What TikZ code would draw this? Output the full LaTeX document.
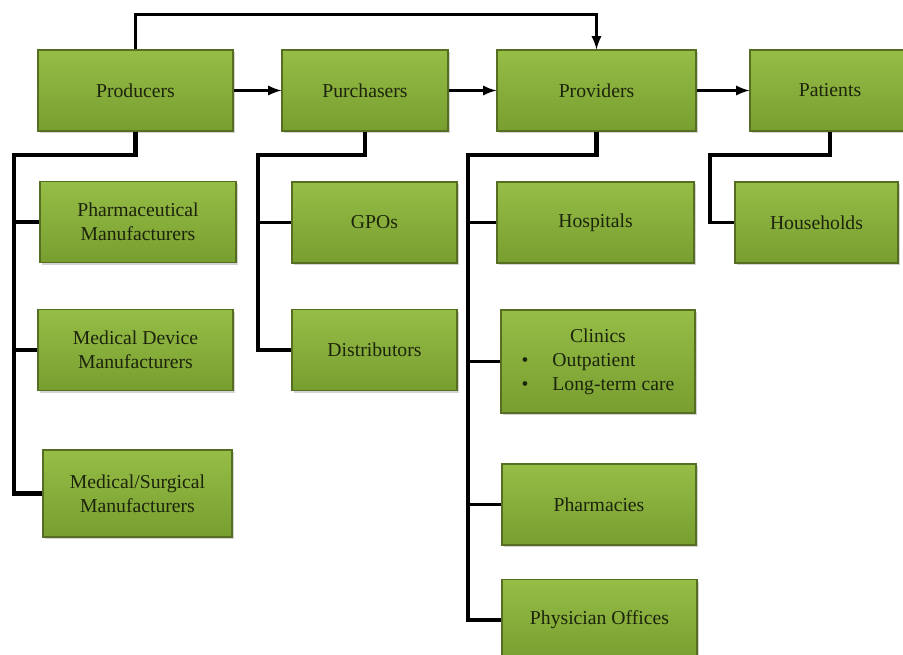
\documentclass[tikz,border=0pt]{standalone}
\usepackage{fontspec}
\setmainfont{Liberation Serif}
\usetikzlibrary{shadows}
\definecolor{boxlight}{RGB}{150,189,70}
\definecolor{boxdark}{RGB}{120,158,48}
\definecolor{boxedge}{RGB}{86,110,34}
\definecolor{boxtext}{RGB}{28,36,12}
\tikzset{
  box/.style={draw=boxedge, line width=0.8pt, top color=boxlight, bottom color=boxdark,
    minimum width=#1, minimum height=2.025cm, inner sep=2pt, align=center,
    drop shadow={shadow xshift=1.5pt, shadow yshift=-1.5pt, opacity=0.35},
    text=boxtext, font=\fontsize{14}{17}\selectfont},
  box/.default=4.9cm,
  link/.style={line width=2.2pt},
  trunk/.style={line width=3.2pt},
}
\begin{document}
\begin{tikzpicture}[x=0.025cm,y=-0.025cm,line join=miter,>=latex]
  \useasboundingbox (0,0) rectangle (903,654);
  % top row
  \node[box=4.875cm] (prod)  at (135.5,90.5) {Producers};
  \node[box=4.15cm]  (purch) at (365,90.5)   {Purchasers};
  \node[box=4.975cm] (prov)  at (596.5,90.5) {Providers};
  \node[box=4.0cm]   (pat)   at (830,90.5)   {Patients};
  % producers
  \node[box=4.9cm]   (pharm)   at (138,222) {Pharmaceutical\\Manufacturers};
  \node[box=4.875cm] (meddev)  at (135.5,350) {Medical Device\\Manufacturers};
  \node[box=4.725cm, minimum height=2.175cm] (medsurg) at (137.5,493.5) {Medical/Surgical\\Manufacturers};
  % purchasers
  \node[box=4.125cm] (gpo)  at (374.5,222.5) {GPOs};
  \node[box=4.125cm] (dist) at (374.5,350)   {Distributors};
  % providers
  \node[box=4.925cm] (hosp) at (595.5,222.5) {Hospitals};
  \node[box=4.85cm, minimum height=2.575cm] (clin) at (598,361.5) {%
    \begin{tabular}{@{}l@{\hspace{17pt}}l@{}}
      \multicolumn{2}{c}{Clinics}\\
      \textbullet & Outpatient\\
      \textbullet & Long-term care
    \end{tabular}};
  \node[box=4.85cm]  (pharmc) at (599,504.5) {Pharmacies};
  \node[box=4.875cm] (phys)   at (599.5,620) {Physician Offices};
  % patients
  \node[box=4.075cm] (house) at (816.5,222.5) {Households};

  % main flow
  \draw[link,->] (prod) -- (purch);
  \draw[link,->] (purch) -- (prov);
  \draw[link,->] (prov) -- (pat);
  \draw[link,->] (prod.north) -- ++(0,-35) -| (prov.north);

  % trees
  \coordinate (ptrunk) at (14,155);
  \coordinate (btrunk) at (258,155);
  \coordinate (vtrunk) at (468,155);
  \coordinate (htrunk) at (710,155);
  \draw[trunk] (prod.south) |- (ptrunk) |- (medsurg.west);
  \foreach \n in {pharm,meddev}
    \draw[link] (ptrunk |- \n.west) -- (\n.west);
  \draw[link] (purch.south) |- (btrunk) |- (dist.west);
  \draw[link] (btrunk |- gpo.west) -- (gpo.west);
  \draw[trunk] (prov.south) |- (vtrunk) |- (phys.west);
  \foreach \n in {hosp,clin,pharmc}
    \draw[link] (vtrunk |- \n.west) -- (\n.west);
  \draw[link] (pat.south) |- (htrunk) |- (house.west);
\end{tikzpicture}
\end{document}
